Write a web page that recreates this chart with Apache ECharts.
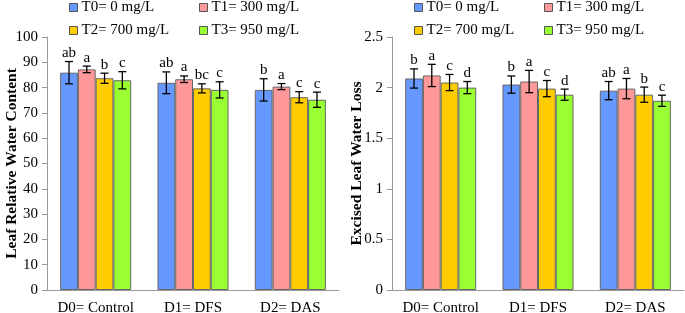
<!DOCTYPE html>
<html>
<head>
<meta charset="utf-8">
<script src="https://cdn.jsdelivr.net/npm/echarts@6/dist/echarts.min.js"></script>
<style>
  html, body { margin: 0; padding: 0; background: #fff; }
  #chart { width: 685px; height: 313px; }
</style>
</head>
<body>
<div id="chart"></div>
<script>
const categories = ['D0= Control', 'D1= DFS', 'D2= DAS']
const treatments = ['T0= 0 mg/L', 'T1= 300 mg/L', 'T2= 700 mg/L', 'T3= 950 mg/L']
const colors = ['#6699ff', '#ff9999', '#ffcc00', '#99ff33']

// Leaf relative water content: one row per treatment, values across D0..D2
const rwcMean = [
  [85.9, 81.9, 79.1],
  [87.2, 83.3, 80.4],
  [83.7, 79.7, 76.2],
  [82.9, 79.1, 75.2]
]
const rwcErr = [
  [4.4, 4.3, 4.4],
  [1.3, 1.3, 1.2],
  [2.0, 1.8, 2.2],
  [3.4, 3.2, 3.0]
]
const rwcSig = [
  ['ab', 'ab', 'b'],
  ['a', 'a', 'a'],
  ['b', 'bc', 'c'],
  ['c', 'c', 'c']
]

// Excised leaf water loss
const elwlMean = [
  [2.09, 2.03, 1.97],
  [2.12, 2.06, 1.99],
  [2.05, 1.99, 1.93],
  [2.00, 1.93, 1.87]
]
const elwlErr = [
  [0.095, 0.085, 0.09],
  [0.11, 0.11, 0.10],
  [0.08, 0.08, 0.075],
  [0.06, 0.055, 0.055]
]
const elwlSig = [
  ['b', 'b', 'ab'],
  ['a', 'a', 'a'],
  ['c', 'c', 'b'],
  ['d', 'd', 'c']
]

const serif = '"Liberation Serif", "Times New Roman", serif'
const gapPct = 0.27

function barSeries(axisIdx, means) {
  return treatments.map((name, t) => ({
    name,
    type: 'bar',
    xAxisIndex: axisIdx,
    yAxisIndex: axisIdx,
    data: means[t],
    barGap: '0%',
    barCategoryGap: '27%',
    itemStyle: { color: colors[t], borderColor: '#666', borderWidth: 1 }
  }))
}

function errorSeries(axisIdx, means, errs, sigs) {
  const data = []
  means.forEach((row, t) => {
    row.forEach((m, c) => data.push([c, m, errs[t][c], t]))
  })
  return {
    type: 'custom',
    xAxisIndex: axisIdx,
    yAxisIndex: axisIdx,
    z: 10,
    silent: true,
    encode: { x: 0, y: 1 },
    data,
    renderItem: (params, api) => {
      const c = api.value(0)
      const m = api.value(1)
      const e = api.value(2)
      const t = api.value(3)
      const catW = api.size([1, 0])[0]
      const barW = catW * (1 - gapPct) / 4
      const x = api.coord([c, 0])[0] + (t - 1.5) * barW
      const yTop = api.coord([c, m + e])[1]
      const yBot = api.coord([c, m - e])[1]
      const cap = 4
      const style = { stroke: '#000', lineWidth: 1.3 }
      return {
        type: 'group',
        children: [
          { type: 'line', shape: { x1: x, y1: yTop, x2: x, y2: yBot }, style },
          { type: 'line', shape: { x1: x - cap, y1: yTop, x2: x + cap, y2: yTop }, style },
          { type: 'line', shape: { x1: x - cap, y1: yBot, x2: x + cap, y2: yBot }, style },
          {
            type: 'text',
            style: {
              text: sigs[t][c],
              x: x,
              y: yTop - 1,
              align: 'center',
              verticalAlign: 'bottom',
              font: '15px ' + serif,
              fill: '#000'
            }
          }
        ]
      }
    }
  }
}

function legends(offsetX) {
  const pos = [[69, 0], [199, 0], [69, 23], [199, 23]]
  return treatments.map((name, t) => ({
    data: [name],
    left: offsetX + pos[t][0],
    top: pos[t][1],
    padding: 0,
    itemWidth: 8,
    itemHeight: 8,
    icon: 'rect',
    itemGap: 4,
    itemStyle: { borderColor: '#555', borderWidth: 1 },
    textStyle: { fontFamily: serif, fontSize: 15, color: '#000', padding: [0, 0, 0, -1] }
  }))
}

function xAxis(idx) {
  return {
    type: 'category',
    gridIndex: idx,
    data: categories,
    axisLine: { lineStyle: { color: '#999' } },
    axisTick: { alignWithLabel: false, length: 5, lineStyle: { color: '#999' } },
    axisLabel: { interval: 0, fontFamily: serif, fontSize: 15, color: '#000', margin: 11 }
  }
}

function yAxis(idx, name, max, interval) {
  return {
    type: 'value',
    gridIndex: idx,
    min: 0,
    max,
    interval,
    name,
    nameLocation: 'middle',
    nameGap: 27,
    nameMoveOverlap: false,
    nameRotate: 90,
    nameTextStyle: { fontFamily: serif, fontSize: 15.5, fontWeight: 'bold', color: '#000' },
    axisLine: { show: true, lineStyle: { color: '#999' } },
    axisTick: { show: true, length: 5, lineStyle: { color: '#999' } },
    axisLabel: { fontFamily: serif, fontSize: 15, color: '#000', margin: 9 },
    splitLine: { show: false }
  }
}

const chart = echarts.init(document.getElementById('chart'))
chart.setOption({
  animation: false,
  legend: [...legends(0), ...legends(345)],
  grid: [
    { left: 47, top: 37, width: 292, height: 253, outerBoundsMode: 'none' },
    { left: 392, top: 37, width: 292, height: 253, outerBoundsMode: 'none' }
  ],
  xAxis: [xAxis(0), xAxis(1)],
  yAxis: [
    yAxis(0, 'Leaf Relative Water Content', 100, 10),
    yAxis(1, 'Excised Leaf Water Loss', 2.5, 0.5)
  ],
  series: [
    ...barSeries(0, rwcMean),
    errorSeries(0, rwcMean, rwcErr, rwcSig),
    ...barSeries(1, elwlMean),
    errorSeries(1, elwlMean, elwlErr, elwlSig)
  ]
})
</script>
</body>
</html>
